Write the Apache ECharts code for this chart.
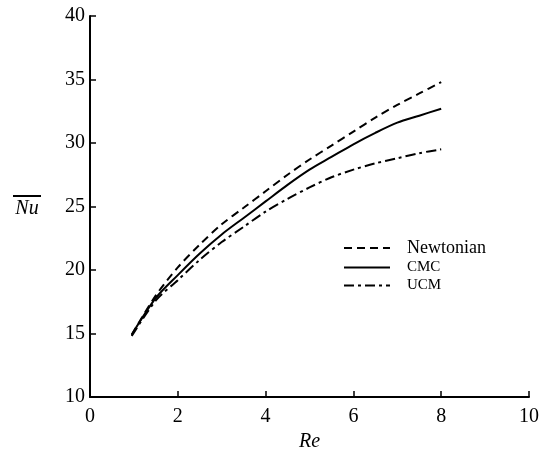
<!DOCTYPE html>
<html><head><meta charset="utf-8">
<script src="https://cdn.jsdelivr.net/npm/echarts@6/dist/echarts.min.js"></script>
<style>html,body{margin:0;padding:0;background:#fff}#c{width:552px;height:451px}</style>
</head><body><div id="c"></div>
<script>
const re = [0.95, 1.5, 2, 2.5, 3, 3.5, 4, 4.5, 5, 5.5, 6, 6.5, 7, 7.5, 8];
const newtonian = [14.9, 18.0, 20.2, 22.0, 23.6, 24.9, 26.2, 27.5, 28.7, 29.8, 30.9, 32.0, 33.0, 33.9, 34.8];
const cmc = [14.9, 17.8, 19.6, 21.3, 22.8, 24.1, 25.4, 26.7, 27.9, 28.9, 29.9, 30.8, 31.6, 32.15, 32.7];
const ucm = [14.8, 17.6, 19.2, 20.8, 22.2, 23.4, 24.6, 25.6, 26.5, 27.3, 27.9, 28.4, 28.8, 29.2, 29.5];
const seriesNames = ['Newtonian', 'CMC', 'UCM'];
const xTicks = [0, 2, 4, 6, 8, 10];
const yTicks = [10, 15, 20, 25, 30, 35, 40];

const font = '"Liberation Serif", "DejaVu Serif", serif';
const pair = (ys) => re.map((x, i) => [x, ys[i]]);
const chart = echarts.init(document.getElementById('c'), null, {renderer: 'canvas'});
const axisCommon = {
  axisLine: {show: true, lineStyle: {color: '#000', width: 2}},
  axisTick: {show: true, inside: true, length: 6, lineStyle: {color: '#000', width: 1.5}},
  splitLine: {show: false},
  axisLabel: {color: '#000', fontFamily: font, fontSize: 20}
};
chart.setOption({
  animation: false,
  backgroundColor: '#fff',
  grid: {left: 90, right: 23, top: 16, bottom: 54, containLabel: false, outerBoundsMode: 'none'},
  xAxis: Object.assign({}, axisCommon, {
    type: 'value', min: xTicks[0], max: xTicks[xTicks.length - 1], interval: 2,
    name: 'Re', nameLocation: 'middle', nameGap: 30,
    nameTextStyle: {fontFamily: font, fontStyle: 'italic', fontSize: 20, color: '#000'},
    axisLabel: Object.assign({}, axisCommon.axisLabel, {margin: 10})
  }),
  yAxis: Object.assign({}, axisCommon, {
    type: 'value', min: yTicks[0], max: yTicks[yTicks.length - 1], interval: 5,
    name: '{bar|}\n{n|Nu}', nameLocation: 'middle', nameGap: 63, nameRotate: 0,
    nameTextStyle: {
      color: '#000', align: 'center',
      rich: {
        bar: {width: 28, height: 2, backgroundColor: '#000', lineHeight: 4},
        n: {fontFamily: font, fontStyle: 'italic', fontSize: 20, color: '#000', lineHeight: 21}
      }
    },
    axisLabel: Object.assign({}, axisCommon.axisLabel, {margin: 5})
  }),
  legend: {
    orient: 'vertical', left: 343, top: 239, padding: 0, itemWidth: 46, itemHeight: 12, itemGap: 3,
    data: seriesNames,
    itemStyle: {opacity: 0},
    formatter: (n) => n === 'Newtonian' ? '{a|' + n + '}' : '{b|' + n + '}',
    textStyle: {
      color: '#000',
      rich: {
        a: {fontFamily: font, fontSize: 18, color: '#000', padding: [0, 0, 0, 12]},
        b: {fontFamily: font, fontSize: 15, color: '#000', padding: [0, 0, 0, 12]}
      }
    }
  },
  series: [
    {name: seriesNames[0], type: 'line', data: pair(newtonian), smooth: 0.3, showSymbol: false, symbol: 'none',
     lineStyle: {color: '#000', width: 2, type: [8, 5]}, itemStyle: {color: '#000'}},
    {name: seriesNames[1], type: 'line', data: pair(cmc), smooth: 0.3, showSymbol: false, symbol: 'none',
     lineStyle: {color: '#000', width: 2, type: 'solid'}, itemStyle: {color: '#000'}},
    {name: seriesNames[2], type: 'line', data: pair(ucm), smooth: 0.3, showSymbol: false, symbol: 'none',
     lineStyle: {color: '#000', width: 2, type: [10, 4, 3, 4]}, itemStyle: {color: '#000'}}
  ]
});
</script></body></html>
